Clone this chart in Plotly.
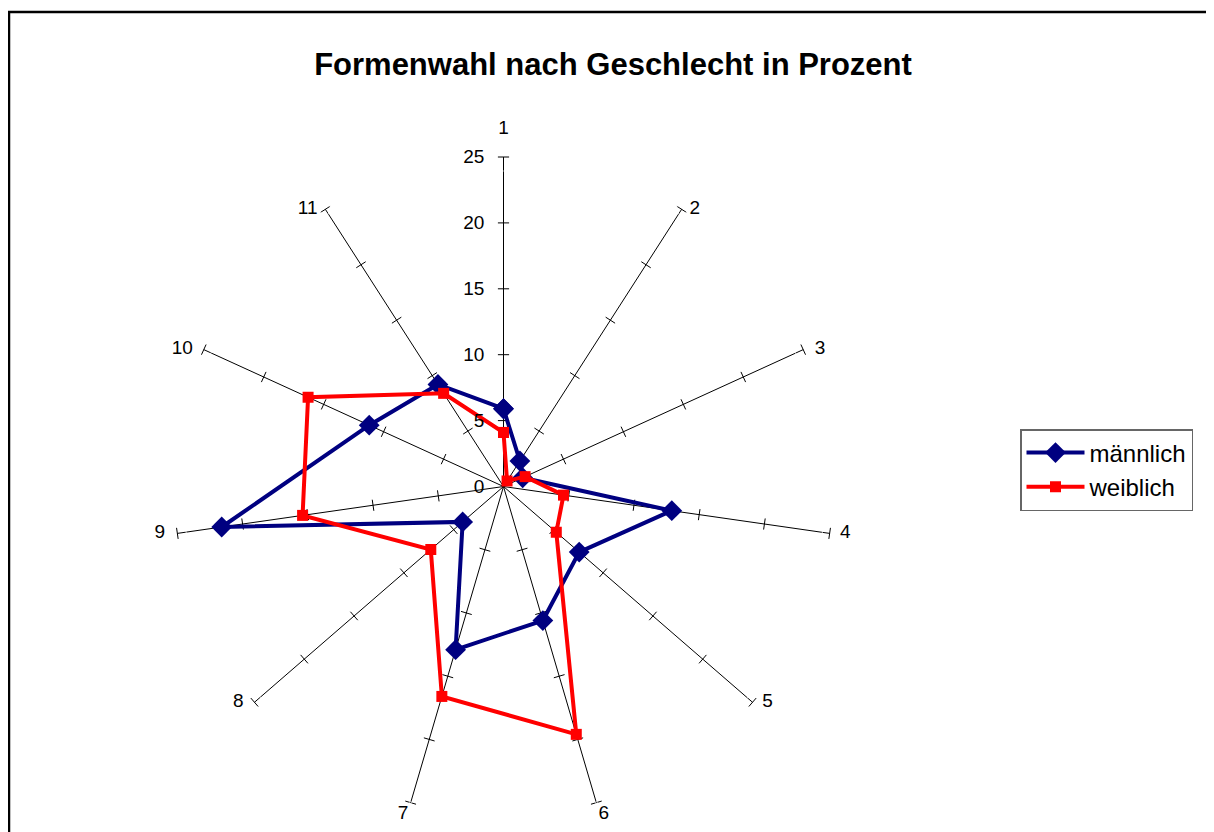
"""
Radar: Formenwahl nach Geschlecht in Prozent (Excel-Stil).
"""

import plotly.graph_objects as go

# Daten
kategorien = [str(i) for i in range(1, 12)]
maennlich = [5.9, 2.3, 1.6, 12.9, 7.6, 10.6, 12.9, 4.1, 21.6, 11.2, 9.2]
weiblich = [4.1, 0.5, 1.8, 4.6, 5.3, 19.6, 16.6, 7.3, 15.4, 16.3, 8.4]
radial_ticks = [0, 5, 10, 15, 20, 25]

FONT = "Arial, Liberation Sans, sans-serif"
W, H = 1214, 832
OFF = 8  # Body-Rand der HTML-Seite


def px(x):
    return (x - OFF) / W


def py(y):
    return 1 - (y - OFF) / H


fig = go.Figure()

# Teilstriche quer zu jeder Speiche (Excel zeichnet sie auf allen Achsen).
n = len(kategorien)
tick_r, tick_t, tick_a = [], [], []
for k, cat in enumerate(kategorien):
    for v in radial_ticks[1:]:
        tick_r.append(v)
        tick_t.append(cat)
        tick_a.append(k * 360.0 / n)
fig.add_trace(
    go.Scatterpolar(
        r=tick_r,
        theta=tick_t,
        mode="markers",
        marker=dict(symbol="line-ew", size=8, angle=tick_a,
                    line=dict(color="black", width=1)),
        showlegend=False,
        hoverinfo="skip",
    )
)

# Kategoriebeschriftung am Speichenende, Excel-artig seitlich versetzt.
# Die unsichtbare Markergroesse steuert den Abstand des Textes.
lab_pos = ["top center", "middle right", "middle right", "middle right",
           "middle right", "bottom right", "bottom left", "middle left",
           "middle left", "middle left", "middle left"]
lab_gap = [28, 11, 17, 15, 14, 2, 2, 16, 18, 16, 11]
fig.add_trace(
    go.Scatterpolar(
        r=[radial_ticks[-1]] * n,
        theta=kategorien,
        text=kategorien,
        mode="markers+text",
        textposition=lab_pos,
        textfont=dict(family=FONT, size=19, color="black"),
        marker=dict(size=lab_gap, color="rgba(0,0,0,0)"),
        cliponaxis=False,
        showlegend=False,
        hoverinfo="skip",
    )
)

# Polygone schliessen (letzter Punkt zurueck zur Achse 1).
fig.add_trace(
    go.Scatterpolar(
        r=maennlich + maennlich[:1],
        theta=kategorien + kategorien[:1],
        name="männlich",
        mode="lines+markers",
        line=dict(color="#000080", width=4),
        marker=dict(symbol="diamond", size=16, color="#000080"),
    )
)
fig.add_trace(
    go.Scatterpolar(
        r=weiblich + weiblich[:1],
        theta=kategorien + kategorien[:1],
        name="weiblich",
        mode="lines+markers",
        line=dict(color="#ff0000", width=4),
        marker=dict(symbol="square", size=11, color="#ff0000"),
    )
)

fig.update_layout(
    width=W,
    height=H,
    margin=dict(l=0, r=0, t=0, b=0),
    paper_bgcolor="white",
    font=dict(family=FONT, color="black", size=19),
    title=dict(
        text="<b>Formenwahl nach Geschlecht in Prozent</b>",
        x=px(613), xanchor="center",
        y=py(64), yanchor="middle",
        font=dict(family=FONT, size=31, color="black"),
    ),
    polar=dict(
        domain=dict(x=[px(174), px(833)], y=[py(816), py(157)]),
        bgcolor="white",
        radialaxis=dict(
            range=[0, 25],
            tickvals=radial_ticks,
            angle=90,
            tickangle=90,
            side="counterclockwise",
            showline=False,
            showgrid=False,
            ticks="outside",
            ticklen=12,
            tickcolor="rgba(0,0,0,0)",
            tickfont=dict(size=19),
        ),
        angularaxis=dict(
            direction="clockwise",
            rotation=90,
            categoryorder="array",
            categoryarray=kategorien,
            showline=False,
            showgrid=True,
            gridcolor="black",
            gridwidth=1,
            ticks="",
            showticklabels=False,
        ),
    ),
    legend=dict(
        x=px(1020), xanchor="left",
        y=py(429), yanchor="top",
        bordercolor="#666666",
        borderwidth=1.5,
        font=dict(family=FONT, size=24),
        itemwidth=58,
    ),
    shapes=[
        dict(type="rect", xref="paper", yref="paper",
             x0=px(9), x1=1.05, y0=-0.05, y1=py(12),
             line=dict(color="black", width=2.5)),
    ],
)

fig.write_html("out.html")
